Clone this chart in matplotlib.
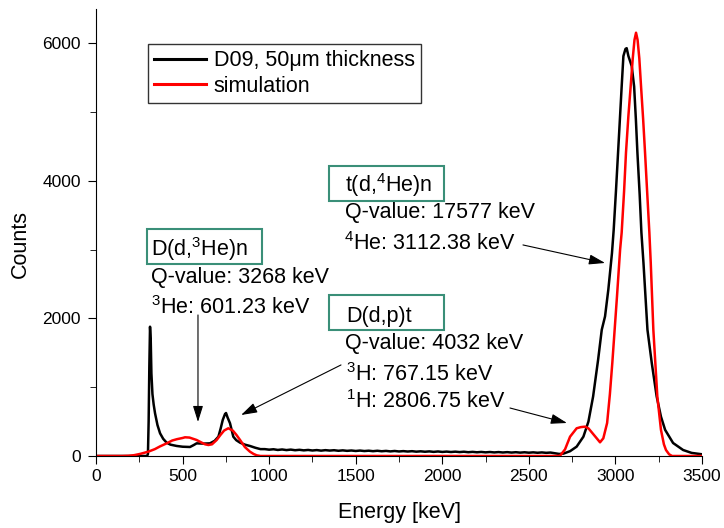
import numpy as np
import matplotlib
matplotlib.use("Agg")
import matplotlib.pyplot as plt
from matplotlib.patches import Rectangle

plt.rcParams["font.family"] = ["Liberation Sans", "DejaVu Sans"]
plt.rcParams["mathtext.fontset"] = "custom"
plt.rcParams["mathtext.rm"] = "Liberation Sans"
plt.rcParams["mathtext.it"] = "Liberation Sans:italic"

# measured spectrum (D09, 50 um)
E_low = [0, 295, 300, 304, 308, 312, 316, 320, 326, 333, 341, 355, 370, 388, 408,
         430, 466, 500, 543, 565, 581, 620, 658, 685, 707, 720, 732, 745, 751, 760,
         774, 793, 810, 832, 860, 889, 920, 950]
C_low = [0, 0, 30, 500, 1300, 1880, 1700, 1200, 900, 750, 621, 450, 330, 250, 194,
         165, 146, 135, 131, 160, 184, 180, 184, 220, 281, 400, 524, 610, 625, 560,
         476, 281, 230, 194, 165, 146, 120, 100]
E_flat = list(range(975, 2700, 25))
C_flat = [100, 92, 98, 88, 95, 86, 93, 84, 90, 82, 88, 80, 86, 78, 85, 79, 84, 76,
          82, 75, 80, 73, 79, 72, 77, 70, 76, 69, 74, 67, 73, 66, 71, 65, 70, 63,
          68, 62, 67, 60, 66, 59, 64, 58, 63, 57, 62, 55, 60, 54, 59, 53, 58, 52,
          57, 51, 56, 50, 55, 49, 54, 48, 53, 47, 52, 46, 50, 40, 30]
E_peak = [2700, 2738, 2776, 2815, 2844, 2871, 2900, 2921, 2940, 2959, 2980, 2990,
          3003, 3015, 3025, 3036, 3046, 3058, 3065, 3075, 3094, 3108, 3118, 3127,
          3140, 3150, 3162, 3185, 3210, 3238, 3263, 3287, 3333, 3391, 3440, 3490, 3500]
C_peak = [35, 70, 136, 281, 500, 864, 1400, 1835, 2030, 2420, 2950, 3290,
          3850, 4410, 4900, 5370, 5815, 5920, 5930, 5815, 5670, 5373, 4900, 4410,
          3800, 3250, 2806, 1835, 1350, 868, 572, 380, 189, 87, 45, 29, 25]
energy_exp = E_low + E_flat + E_peak
counts_exp = C_low + C_flat + C_peak

# simulation
energy_sim = [0, 150, 187, 220, 254, 302, 340, 370, 408, 440, 468, 500, 514, 540,
              581, 610, 630, 649, 670, 697, 720, 740, 764, 790, 810, 832, 860, 889,
              910, 928, 950, 2650, 2680, 2709, 2738, 2776, 2800, 2825, 2845, 2863,
              2892, 2911, 2930, 2952, 2968, 2982, 3009, 3027, 3036, 3050, 3061, 3075,
              3088, 3100, 3110, 3119, 3128, 3138, 3148, 3160, 3171, 3183, 3196, 3204,
              3219, 3242, 3263, 3280, 3292, 3310, 3327, 3500]
counts_sim = [0, 0, 3, 12, 30, 63, 100, 140, 184, 225, 245, 262, 272, 268,
              233, 195, 170, 160, 170, 233, 310, 370, 403, 370, 310, 233, 130, 63,
              30, 10, 0, 0, 3, 97, 281, 403, 420, 427, 400, 345,
              257, 199, 257, 480, 900, 1354, 2320, 3000, 3247, 3850, 4412, 4950,
              5373, 5780, 6050, 6155, 6050, 5780, 5373, 4900, 4412, 3850, 3250, 2810,
              1835, 865, 380, 170, 87, 25, 0, 0]

teal = "#3a8f78"
fs = 15.5

fig = plt.figure(figsize=(7.24, 5.28), dpi=100)
ax = fig.add_axes([96 / 724, 1 - 456 / 528, 606 / 724, 447 / 528])

ax.plot(energy_exp, counts_exp, color="black", lw=1.8, label="D09, 50\u03bcm thickness")
ax.plot(energy_sim, counts_sim, color="red", lw=1.8, label="simulation")

ax.set_xlim(0, 3500)
ax.set_ylim(0, 6500)
ax.set_xticks(np.arange(0, 3501, 500))
ax.set_xticks(np.arange(0, 3501, 250), minor=True)
ax.set_yticks([0, 2000, 4000, 6000])
ax.set_yticks([1000, 3000, 5000], minor=True)
ax.spines["top"].set_visible(False)
ax.spines["right"].set_visible(False)
ax.tick_params(which="both", direction="out", labelsize=12.5)
ax.tick_params(which="major", length=6)
ax.tick_params(which="minor", length=4.5)
ax.tick_params(axis="x", pad=3.5)
ax.tick_params(axis="y", pad=5)

ax.set_xlabel("Energy [keV]", fontsize=fs)
ax.set_ylabel("Counts", fontsize=fs)
ax.xaxis.set_label_coords(0.5, -0.103)
ax.yaxis.set_label_coords(-0.107, 0.475)

leg = ax.legend(loc="upper left", bbox_to_anchor=(0.0858, 0.922), fontsize=fs,
                frameon=True, fancybox=False, framealpha=1, edgecolor="#333333",
                handlelength=2.4, handletextpad=0.35, labelspacing=0.2,
                borderpad=0.3, borderaxespad=0)
leg.get_frame().set_linewidth(1.0)
for h in leg.get_lines():
    h.set_linewidth(2.2)

# reaction boxes
for x0, y0, x1, y1 in [(295, 2793, 959, 3302), (1346, 3709, 2010, 4218),
                       (1346, 1833, 2010, 2342)]:
    ax.add_patch(Rectangle((x0, y0), x1 - x0, y1 - y0, fill=False,
                           edgecolor=teal, lw=1.5, clip_on=False))

texts = [
    (318, 2909, r"D(d,$^{3}$He)n"),
    (318, 2521, "Q-value: 3268 keV"),
    (318, 2065, r"$^{3}$He: 601.23 keV"),
    (1438, 3836, r"t(d,$^{4}$He)n"),
    (1438, 3457, "Q-value: 17577 keV"),
    (1432, 2996, r"$^{4}$He: 3112.38 keV"),
    (1444, 1953, "D(d,p)t"),
    (1438, 1552, "Q-value: 4032 keV"),
    (1444, 1095, r"$^{3}$H: 767.15 keV"),
    (1444, 694, r"$^{1}$H: 2806.75 keV"),
]
for x, y, s in texts:
    ax.text(x, y, s, fontsize=fs, ha="left", va="baseline")

arrows = [
    ((589, 2051), (589, 495)),
    ((1415, 1324), (838, 596)),
    ((2466, 3069), (2940, 2807)),
    ((2391, 698), (2720, 480)),
]
for start, end in arrows:
    ax.annotate("", xy=end, xytext=start,
                arrowprops=dict(arrowstyle="-|>,head_length=0.7,head_width=0.22",
                                color="black", lw=0.8, shrinkA=0, shrinkB=0,
                                mutation_scale=14))

fig.savefig("out.png", dpi=100)
